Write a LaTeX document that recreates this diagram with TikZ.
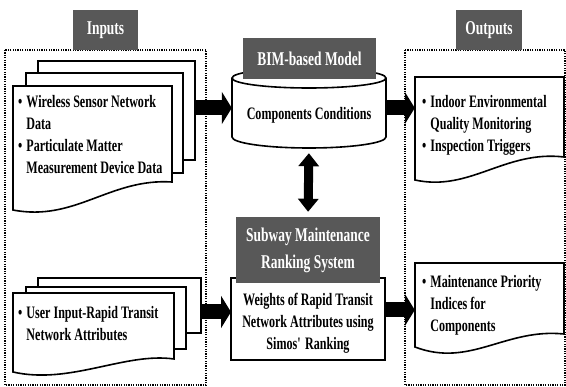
\documentclass[tikz,border=0pt]{standalone}
\usepackage{fontspec}
\setmainfont[FakeStretch=0.69]{Liberation Serif}
\usetikzlibrary{arrows.meta}
\definecolor{lblgray}{RGB}{88,88,88}
\tikzset{
  frame/.style={line width=1.5pt, dash pattern=on 1.2pt off 1.2pt},
  sheet/.style={draw, line width=1.6pt, fill=white, inner sep=0pt},
  lbl/.style={fill=lblgray, text=white, inner sep=0pt, align=center,
    font=\bfseries\fontsize{19.5}{27}\selectfont},
  body/.style={inner sep=0pt, font=\bfseries\fontsize{17.5}{22}\selectfont},
  blockarrow/.style={line width=15pt, -{Triangle[length=10pt,width=32pt]}},
  twoway/.style={line width=9pt,
    {Triangle[length=13pt,width=20pt]}-{Triangle[length=13pt,width=20pt]}},
  ghost/.style={inner sep=0pt, draw=none}
}
\begin{document}
\begin{tikzpicture}[x=1pt, y=-1pt]
\useasboundingbox (0,0) rectangle (566,387);

% dotted frames
\draw[frame] (5,50) rectangle (206,385);
\draw[frame] (405,50) rectangle (565,385);

% ---- input documents, upper stack ----
\node[sheet, minimum width=157pt, minimum height=99pt] (inA3) at (116.5,110.5) {};
\node[sheet, minimum width=157pt, minimum height=100pt] (inA2) at (104.5,123) {};
\draw[line width=1.6pt, fill=white] (13,86) -- (172,86) -- (172,182)
  .. controls (110,178) and (75,222) .. (13,210) -- cycle;
\node[body, anchor=west] (inAtxt) at (18,136.5) {%
  \begin{tabular}{@{}l@{\hspace{4pt}}l@{}}
  \textbullet & Wireless Sensor Network\\
   & Data\\
  \textbullet & Particulate Matter\\
   & Measurement Device Data
  \end{tabular}};

% ---- input documents, lower stack ----
\node[sheet, minimum width=163pt, minimum height=55pt] (inB3) at (119.5,305.5) {};
\node[sheet, minimum width=160pt, minimum height=62pt] (inB2) at (106,318) {};
\draw[line width=1.6pt, fill=white] (13,293) -- (174,293) -- (174,359)
  .. controls (125,352) and (70,385) .. (13,372) -- cycle;
\node[body, anchor=west] (inBtxt) at (18,325.5) {%
  \begin{tabular}{@{}l@{\hspace{4pt}}l@{}}
  \textbullet & User Input-Rapid Transit\\
   & Network Attributes
  \end{tabular}};

% ---- BIM cylinder ----
\draw[line width=1.6pt, fill=white] (232,78) -- (232,137)
  arc[start angle=180, end angle=360, x radius=77pt, y radius=11pt]
  -- (386,78)
  arc[start angle=0, end angle=180, x radius=77pt, y radius=10pt] -- cycle;
\draw[line width=1.6pt] (232,78)
  arc[start angle=180, end angle=360, x radius=77pt, y radius=10pt];
\node[ghost, minimum width=154pt, minimum height=80pt] (cyl) at (309,108) {};
\node[body] (comp) at (309,115) {Components Conditions};
\node[lbl, minimum width=133pt, minimum height=41pt] (bimLbl) at (309.5,58.5) {BIM-based Model};

% ---- ranking system ----
\node[sheet, minimum width=154pt, minimum height=82pt, align=center,
  font=\bfseries\fontsize{17.5}{22}\selectfont] (rank) at (308,319)
  {\\[-2pt]Weights of Rapid Transit\\Network Attributes using\\Simos\textquotesingle\ Ranking};
\node[lbl, minimum width=144pt, minimum height=66pt] (rankLbl) at (308,250)
  {Subway Maintenance\\Ranking System};

% ---- output documents ----
\draw[line width=1.6pt, fill=white] (415,77) -- (564,77) -- (564,157)
  .. controls (505,150) and (470,192) .. (415,180) -- cycle;
\node[ghost, minimum width=149pt, minimum height=103pt] (outA) at (489.5,128.5) {};
\node[body, anchor=west] (outAtxt) at (422,125) {%
  \begin{tabular}{@{}l@{\hspace{4pt}}l@{}}
  \textbullet & Indoor Environmental\\
   & Quality Monitoring\\
  \textbullet & Inspection Triggers
  \end{tabular}};

\draw[line width=1.6pt, fill=white] (415,263) -- (564,263) -- (564,334)
  .. controls (505,328) and (470,368) .. (415,347) -- cycle;
\node[ghost, minimum width=149pt, minimum height=89pt] (outB) at (489.5,307.5) {};
\node[body, anchor=west] (outBtxt) at (422,305) {%
  \begin{tabular}{@{}l@{\hspace{4pt}}l@{}}
  \textbullet & Maintenance Priority\\
   & Indices for\\
   & Components
  \end{tabular}};

% ---- frame labels ----
\node[lbl, minimum width=65pt, minimum height=40pt] (inLbl) at (105.5,30) {Inputs};
\node[lbl, minimum width=66pt, minimum height=40pt] (outLbl) at (489,30) {Outputs};

% ---- connectors ----
\coordinate (rankIn) at (231,312);
\coordinate (rankOut) at (385,310);
\draw[blockarrow] (inA3.east |- cyl.west) -- (cyl.west);
\draw[blockarrow] (cyl.east) -- (outA.west |- cyl.east);
\draw[blockarrow] (inB3.east |- rankIn) -- (rankIn);
\draw[blockarrow] (rankOut) -- (outB.west |- rankOut);
\draw[twoway, shorten <=5pt, shorten >=5pt] (cyl.south) -- (rankLbl.north);
\end{tikzpicture}
\end{document}
